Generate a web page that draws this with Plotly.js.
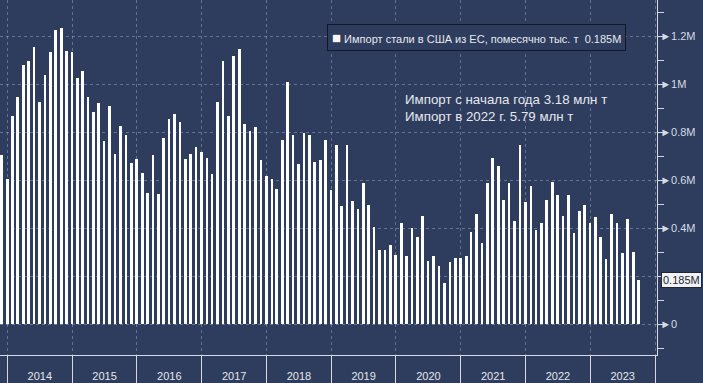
<!DOCTYPE html>
<html>
<head>
<meta charset="utf-8">
<script src="https://cdn.plot.ly/plotly-3.0.1.min.js"></script>
<style>
  html, body { margin: 0; padding: 0; background: #2e3d5e; }
  #chart { width: 703px; height: 383px; }
</style>
</head>
<body>
<div id="chart"></div>
<script>
// Monthly US steel imports from the EU, million tonnes
const startYear = 2013;
const startMonth = 10; // November (0-based), first visible bar
const v2013 = [0.704, 0.603];
const v2014 = [0.867, 0.946, 1.079, 1.096, 1.154, 0.926, 1.037, 1.133, 1.224, 1.233, 1.138, 1.133];
const v2015 = [1.025, 1.054, 0.946, 0.883, 0.921, 0.762, 0.908, 0.708, 0.825, 0.788, 0.671, 0.688];
const v2016 = [0.629, 0.546, 0.704, 0.543, 0.775, 0.854, 0.875, 0.842, 0.688, 0.708, 0.738, 0.717];
const v2017 = [0.692, 0.625, 0.925, 1.096, 0.867, 1.117, 1.146, 0.833, 0.804, 0.821, 0.683, 0.617];
const v2018 = [0.604, 0.5625, 0.767, 1.008, 0.788, 0.667, 0.796, 0.788, 0.675, 0.683, 0.767, 0.558];
const v2019 = [0.745, 0.492, 0.745, 0.5125, 0.479, 0.5875, 0.496, 0.404, 0.308, 0.308, 0.329, 0.2875];
const v2020 = [0.421, 0.283, 0.40, 0.3625, 0.45, 0.2625, 0.283, 0.242, 0.171, 0.258, 0.275, 0.275];
const v2021 = [0.283, 0.383, 0.458, 0.3375, 0.5875, 0.692, 0.658, 0.517, 0.5875, 0.429, 0.746, 0.508];
const v2022 = [0.575, 0.392, 0.421, 0.517, 0.592, 0.5375, 0.45, 0.5375, 0.379, 0.471, 0.496, 0.421];
const v2023 = [0.446, 0.3625, 0.271, 0.458, 0.421, 0.296, 0.4375, 0.30, 0.185];

const yTickVals = [0, 0.2, 0.4, 0.6, 0.8, 1.0, 1.2];
const yTickText = ['0', '0.2M', '0.4M', '0.6M', '0.8M', '1M', '1.2M'];

const seriesName = 'Импорт стали в США из ЕС, помесячно тыс. т  0.185M';
const noteLines = ['Импорт с начала года 3.18 млн т', 'Импорт в 2022 г. 5.79 млн т'];
const lastLabel = '0.185M';

const values = [].concat(v2013, v2014, v2015, v2016, v2017, v2018, v2019, v2020, v2021, v2022, v2023);

// month-end dates (Bloomberg style)
function monthEnd(i) {
  const d = new Date(Date.UTC(startYear, startMonth + i + 1, 0));
  return d.toISOString().slice(0, 10);
}
const dates = values.map((_, i) => monthEnd(i));
const lastValue = values[values.length - 1];

const bg = '#2e3d5e';
const lineCol = '#d5d9e2';
const gridCol = 'rgba(190,200,225,0.38)';
const textCol = '#e4e6eb';
const DAY = 86400000;

const traces = [
  {
    type: 'bar',
    x: dates,
    y: values,
    width: 15 * DAY,
    marker: { color: '#ffffff', line: { width: 0 } },
    name: seriesName,
    showlegend: false,
    hoverinfo: 'x+y'
  },
  {
    type: 'scatter', x: [], y: [], xaxis: 'x2', yaxis: 'y',
    showlegend: false, hoverinfo: 'skip'
  }
];

const xRange = ['2013-11-20', '2024-01-12'];

const layout = {
  width: 703, height: 383,
  margin: { l: 0, r: 46, t: 0, b: 28, pad: 0 },
  paper_bgcolor: bg,
  plot_bgcolor: bg,
  font: { family: 'Liberation Sans, Arial, sans-serif', color: textCol, size: 11 },
  showlegend: false,
  bargap: 0,
  xaxis: {
    type: 'date',
    range: xRange,
    tick0: '2014-01-01',
    dtick: 'M12',
    tickformat: '%Y',
    ticklabelmode: 'period',
    ticks: 'outside',
    ticklen: 11,
    tickcolor: 'rgba(0,0,0,0)',
    showgrid: true,
    gridcolor: gridCol,
    griddash: 'dot',
    gridwidth: 1,
    showline: true,
    linecolor: lineCol,
    linewidth: 1,
    zeroline: false,
    tickfont: { size: 11, color: textCol },
    fixedrange: true
  },
  xaxis2: {
    type: 'date',
    overlaying: 'x',
    matches: 'x',
    range: xRange,
    anchor: 'y',
    side: 'bottom',
    tick0: '2014-01-01',
    dtick: 'M12',
    ticks: 'outside',
    ticklen: 28,
    tickwidth: 1,
    tickcolor: lineCol,
    showticklabels: false,
    showgrid: false,
    zeroline: false,
    showline: false
  },
  yaxis: {
    side: 'right',
    range: [-0.129, 1.35],
    tickmode: 'array',
    tickvals: yTickVals,
    ticktext: yTickText.map(t => '►' + t),
    ticks: '',
    showgrid: true,
    gridcolor: gridCol,
    griddash: 'dot',
    gridwidth: 1,
    zeroline: false,
    showline: true,
    linecolor: lineCol,
    linewidth: 1,
    tickfont: { size: 11, color: '#d6dae3' },
    minor: {
      tickmode: 'linear', tick0: 0, dtick: 0.1,
      ticks: 'outside', ticklen: 6, tickwidth: 1, tickcolor: lineCol,
      showgrid: false
    },
    fixedrange: true
  },
  annotations: [
    {
      xref: 'paper', yref: 'paper',
      x: 476 / 657, y: 1 - 38 / 355,
      xanchor: 'center', yanchor: 'middle',
      text: '<span style="color:#fff4f4;font-size:15px">■</span> ' + seriesName,
      showarrow: false,
      font: { size: 11, color: '#e6e8ee' },
      bgcolor: bg,
      bordercolor: '#121826',
      borderwidth: 1,
      borderpad: 4
    },
    {
      xref: 'paper', yref: 'paper',
      x: 403 / 657, y: 1 - 108 / 355,
      xanchor: 'left', yanchor: 'middle',
      align: 'left',
      text: noteLines.join('<br>'),
      showarrow: false,
      font: { size: 13.3, color: '#e6e8ee' }
    },
    {
      xref: 'paper', yref: 'y',
      x: 1, y: lastValue,
      xanchor: 'left', yanchor: 'middle',
      xshift: 4,
      text: lastLabel,
      showarrow: false,
      font: { size: 11, color: '#1d263a' },
      bgcolor: '#f2f2f2',
      bordercolor: '#1d263a',
      borderwidth: 1,
      borderpad: 1
    }
  ]
};

Plotly.newPlot('chart', traces, layout, { staticPlot: true, displayModeBar: false });
</script>
</body>
</html>
